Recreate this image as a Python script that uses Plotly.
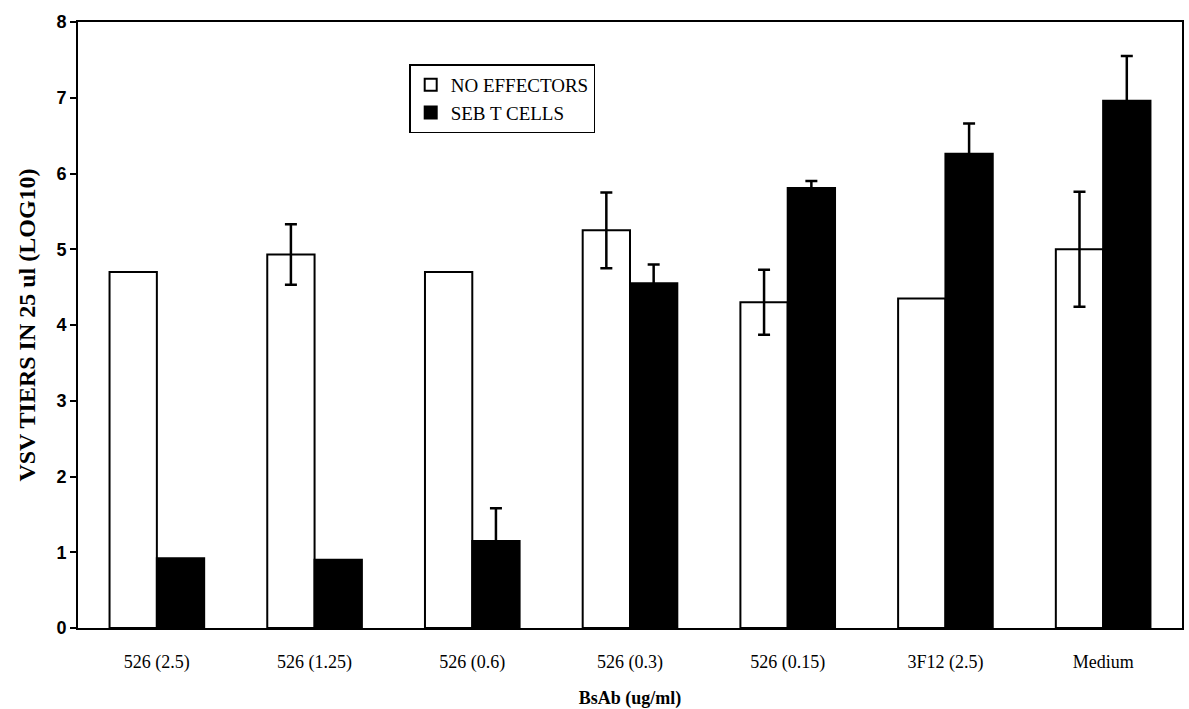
import plotly.graph_objects as go

categories = ["526 (2.5)", "526 (1.25)", "526 (0.6)", "526 (0.3)", "526 (0.15)", "3F12 (2.5)", "Medium"]
no_effectors = [4.70, 4.93, 4.70, 5.25, 4.30, 4.35, 5.00]
no_effectors_err = [None, 0.40, None, 0.50, 0.43, None, 0.76]
seb_t_cells = [0.92, 0.90, 1.15, 4.55, 5.81, 6.26, 6.96]
seb_t_cells_err = [None, None, 0.43, 0.25, 0.09, 0.40, 0.59]

serif = "Liberation Serif"
sans = "Liberation Sans"


def err_array(vals):
    # missing error values -> not drawn (non-numeric)
    return [v if v is not None else "NaN" for v in vals]


fig = go.Figure()
fig.add_trace(go.Bar(
    name="NO EFFECTORS", x=categories, y=no_effectors,
    marker=dict(color="white", line=dict(color="black", width=2)),
    error_y=dict(type="data", array=err_array(no_effectors_err), color="black", thickness=2.5, width=6),
))
fig.add_trace(go.Bar(
    name="SEB T CELLS", x=categories, y=seb_t_cells,
    marker=dict(color="black", line=dict(color="black", width=2)),
    error_y=dict(type="data", array=err_array(seb_t_cells_err), color="black", thickness=2.5, width=6),
))

fig.update_layout(
    width=1189, height=709,
    margin=dict(l=78, r=7, t=22, b=81),
    paper_bgcolor="white", plot_bgcolor="white",
    font=dict(family=serif, color="black"),
    barmode="group", bargap=0.4, bargroupgap=0,
    showlegend=True,
    legend=dict(
        x=0.3, y=0.93, xanchor="left", yanchor="top",
        bgcolor="white", bordercolor="black", borderwidth=1.5,
        font=dict(family="Times New Roman, Liberation Serif, serif", size=19, color="black"),
        itemwidth=30, tracegroupgap=0,
    ),
    xaxis=dict(
        showline=True, linecolor="black", linewidth=2, mirror=True, automargin=False,
        ticks="", showgrid=False, ticklabelstandoff=16,
        tickfont=dict(family=serif, size=18, color="black"),
        title=dict(text="BsAb (ug/ml)", font=dict(family=serif, size=18, color="black", weight="bold"), standoff=20),
    ),
    yaxis=dict(
        range=[0, 8], dtick=1, showline=True, linecolor="black", linewidth=2, mirror=True, automargin=False,
        ticks="outside", ticklen=6, tickwidth=1.5, tickcolor="black", showgrid=False, zeroline=False,
        tickfont=dict(family=sans, size=18, color="black", weight="bold"),
        title=dict(text="VSV TIERS IN 25 ul (LOG10)", font=dict(family=serif, size=24, color="black", weight="bold"), standoff=14),
    ),
)

fig.write_html("out.html")
